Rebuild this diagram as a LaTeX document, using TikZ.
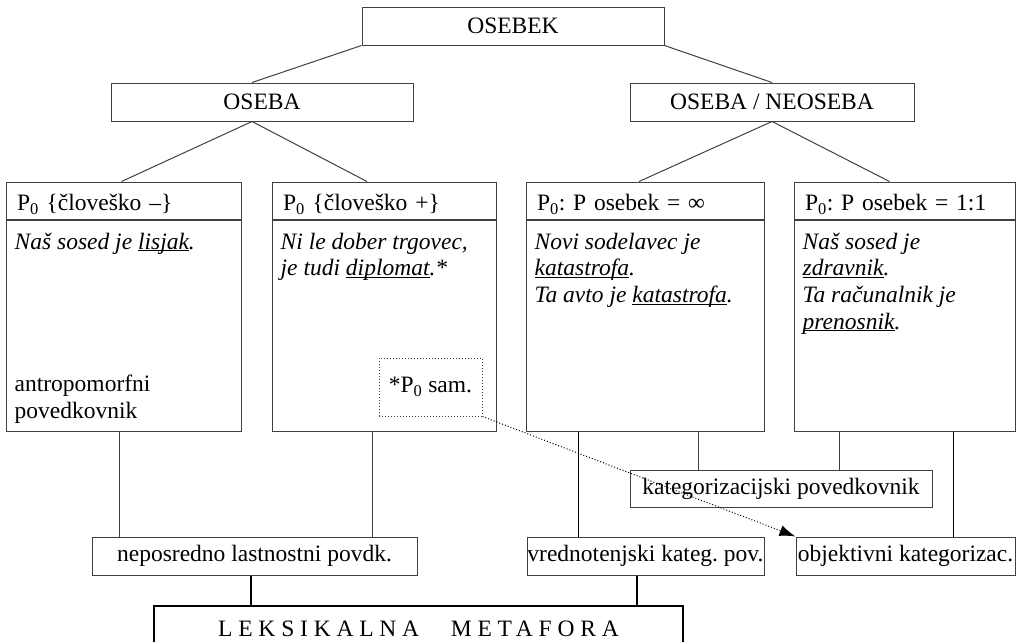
\documentclass[tikz,border=0pt]{standalone}
\usepackage{fontspec}
\setmainfont{Liberation Serif}
\usetikzlibrary{arrows.meta}

\newcommand\figfont{\fontsize{23.5}{26.7}\selectfont\frenchspacing}
\newcommand\ul[1]{\underline{\smash{#1}}}

\begin{document}
\begin{tikzpicture}[x=1pt, y=-1pt, font=\figfont,
  box/.style={draw=black!75, line width=1pt, rectangle, inner sep=0pt},
  head/.style={box, minimum height=37, inner xsep=11, align=left, text height=20pt, text depth=0pt},
  body/.style={box, minimum height=211},
  example/.style={inner sep=0pt, anchor=north west, align=left, font=\figfont\itshape},
  note/.style={inner sep=0pt, anchor=south west, align=left},
  thickline/.style={line width=2.5pt},
  dotline/.style={line width=1pt, dash pattern=on 1pt off 2pt}]

 \useasboundingbox (0,0) rectangle (1020,641);

	%top
 \node[box, minimum width=302, minimum height=38] (osebek) at (513,26) {OSEBEK};
 \node[box, minimum width=302, minimum height=38] (oseba) at (262,102) {OSEBA};
 \node[box, minimum width=284, minimum height=38] (neoseba) at (772,102) {OSEBA / NEOSEBA};

 \draw[box] (osebek.south west) -- ([xshift=-10]oseba.north);
 \draw[box] (osebek.south east) -- (neoseba.north);

	%four boxes
 \def\hy{200.5};
    \foreach \name/\l/\r/\head in { p1/6/241/{P\textsubscript{0} \{človeško –\}}, p2/272/496/{P\textsubscript{0} \{človeško +\}},
                                    p3/526/764/{P\textsubscript{0}: P osebek = ∞}, p4/794/1015/{P\textsubscript{0}: P osebek = 1:1}}{
         \pgfmathsetmacro\w{\r-\l}
         \pgfmathsetmacro\tw{\r-\l-22}
         \node[head, text width=\tw pt] (h\name) at ({(\l+\r)/2}, \hy) {\head};
         \node[body, minimum width=\w pt, anchor=north] (b\name) at (h\name.south) {};
    }

 \draw[box] ([xshift=-10]oseba.south) -- ([xshift=-2]hp1.north);
 \draw[box] ([xshift=-10]oseba.south) -- ([xshift=-17]hp2.north);
 \draw[box] (neoseba.south) -- ([xshift=-6]hp3.north);
 \draw[box] (neoseba.south) -- ([xshift=-15]hp4.north);

	%examples
 \node[example] (ep1) at ([shift={(9,13)}]bp1.north west) {Naš sosed je \ul{lisjak}.};
 \node[note] (np1) at ([shift={(9,-8)}]bp1.south west) {antropomorfni\\povedkovnik};
 \node[example] (ep2) at ([shift={(9,13)}]bp2.north west) {Ni le dober trgovec,\\je tudi \ul{diplomat}.*};
 \node[box, dash pattern=on 1pt off 2pt, minimum width=103, minimum height=58] (sam) at (430.5,387) {*P\textsubscript{0} sam.};
 \node[example] (ep3) at ([shift={(9,13)}]bp3.north west) {Novi sodelavec je\\\ul{katastrofa}.\\Ta avto je \ul{katastrofa}.};
 \node[example] (ep4) at ([shift={(9,13)}]bp4.north west) {Naš sosed je\\\ul{zdravnik}.\\Ta računalnik je\\\ul{prenosnik}.};

	%predicates
 \node[box, minimum width=302, minimum height=37] (kat) at (781,488.5) {kategorizacijski povedkovnik};
 \node[box, minimum width=325, minimum height=38] (np) at (254.5,556) {neposredno lastnostni povdk.};
 \node[box, minimum width=237, minimum height=38] (vr) at (645.5,556) {vrednotenjski kateg. pov.};
 \node[box, minimum width=219, minimum height=38] (obj) at (905.5,556) {objektivni kategorizac.};
 \node[box, draw=black, thickline, minimum width=529, minimum height=46] (lm) at (418.5,629)
      {\addfontfeatures{LetterSpace=24.7}LEKSIKALNA \hspace{0.35em} METAFORA};

    \foreach \x/\from/\to/\col in {119/bp1/np/black!75, 372/bp2/np/black!75, 578/bp3/vr/black, 698/bp3/kat/black!75, 839/bp4/kat/black!75, 953/bp4/obj/black}{
         \draw[box, draw=\col] (\x,0 |- \from.south) -- (\x,0 |- \to.north);
    }
    \foreach \x/\from in {251/np, 637/vr}{
         \draw[thickline] (\x,0 |- \from.south) -- (\x,0 |- lm.north);
    }

 \draw[dotline, -{Latex[length=16pt, width=11pt]}] (sam.south east) -- (obj.north west);

\end{tikzpicture}
\end{document}
